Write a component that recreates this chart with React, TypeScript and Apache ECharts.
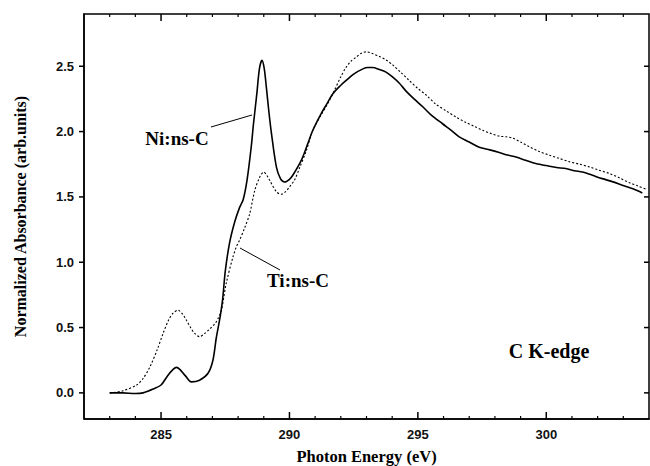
import React, { useEffect, useRef } from "react";
import * as echarts from "echarts";

const niEnergy = [283.0, 283.5, 284.0, 284.3, 284.7, 285.0, 285.25, 285.47, 285.6, 285.73, 285.95, 286.18, 286.5, 286.83, 287.02, 287.15, 287.29, 287.4, 287.5, 287.67, 287.87, 288.06, 288.2, 288.35, 288.51, 288.6, 288.73, 288.83, 288.93, 289.02, 289.1, 289.2, 289.3, 289.49, 289.65, 289.81, 290.0, 290.13, 290.46, 290.7, 290.91, 291.24, 291.45, 291.69, 292.0, 292.2, 292.5, 292.86, 293.05, 293.24, 293.5, 293.76, 294.0, 294.28, 294.54, 294.85, 295.19, 295.5, 295.96, 296.3, 296.61, 297.0, 297.39, 297.8, 298.17, 298.5, 298.82, 299.2, 299.59, 300.11, 300.4, 300.76, 301.1, 301.41, 301.8, 302.18, 302.6, 302.96, 303.4, 303.74];
const niAbs = [0.0, 0.0, -0.005, 0.0, 0.03, 0.06, 0.13, 0.18, 0.195, 0.18, 0.13, 0.084, 0.097, 0.15, 0.25, 0.42, 0.57, 0.72, 0.93, 1.15, 1.31, 1.42, 1.48, 1.63, 1.88, 2.06, 2.29, 2.48, 2.545, 2.48, 2.34, 2.15, 1.985, 1.73, 1.64, 1.614, 1.635, 1.666, 1.78, 1.9, 2.01, 2.14, 2.21, 2.29, 2.355, 2.39, 2.44, 2.48, 2.49, 2.49, 2.475, 2.455, 2.42, 2.37, 2.31, 2.25, 2.19, 2.13, 2.06, 2.01, 1.96, 1.92, 1.88, 1.86, 1.84, 1.82, 1.805, 1.78, 1.755, 1.735, 1.725, 1.717, 1.7, 1.69, 1.665, 1.64, 1.615, 1.59, 1.56, 1.53];

const tiEnergy = [283.0, 283.5, 284.05, 284.3, 284.57, 284.85, 285.08, 285.3, 285.47, 285.66, 285.85, 285.99, 286.15, 286.31, 286.5, 286.7, 286.9, 287.1, 287.22, 287.35, 287.54, 287.8, 287.93, 288.06, 288.25, 288.45, 288.65, 288.84, 289.0, 289.12, 289.23, 289.49, 289.68, 289.85, 290.0, 290.2, 290.39, 290.65, 290.91, 291.24, 291.45, 291.69, 292.0, 292.2, 292.4, 292.6, 292.8, 292.98, 293.2, 293.5, 293.75, 294.02, 294.35, 294.67, 295.0, 295.32, 295.7, 296.09, 296.5, 296.87, 297.2, 297.52, 297.85, 298.17, 298.45, 298.69, 299.0, 299.33, 299.7, 300.11, 300.5, 300.89, 301.3, 301.67, 302.05, 302.44, 302.8, 303.22, 303.55, 303.87];
const tiAbs = [0.0, 0.015, 0.06, 0.11, 0.2, 0.33, 0.455, 0.56, 0.61, 0.633, 0.6, 0.556, 0.5, 0.455, 0.43, 0.455, 0.49, 0.53, 0.57, 0.63, 0.84, 1.04, 1.117, 1.17, 1.26, 1.37, 1.55, 1.65, 1.69, 1.665, 1.627, 1.54, 1.52, 1.54, 1.576, 1.63, 1.72, 1.85, 2.01, 2.13, 2.2, 2.29, 2.42, 2.49, 2.54, 2.57, 2.6, 2.61, 2.6, 2.575, 2.55, 2.51, 2.45, 2.39, 2.33, 2.28, 2.21, 2.16, 2.11, 2.07, 2.04, 2.01, 1.985, 1.965, 1.96, 1.95, 1.92, 1.885, 1.85, 1.82, 1.795, 1.77, 1.75, 1.73, 1.705, 1.68, 1.65, 1.61, 1.585, 1.56];

const xMajorTicks = [285, 290, 295, 300];
const xAllTicks = [283, 284, 285, 286, 287, 288, 289, 290, 291, 292, 293, 294, 295, 296, 297, 298, 299, 300, 301, 302, 303];
const yMajorTicks = [0, 0.5, 1.0, 1.5, 2.0, 2.5];

const X_MIN = 282;
const X_MAX = 304;
const Y_MIN = -0.2;
const Y_MAX = 2.9;

const sansFont = "'Liberation Sans', Arial, Helvetica, sans-serif";
const serifFont = "'Liberation Serif', 'Times New Roman', Times, serif";

const textStyle = (text: string, size: number) => ({
  text,
  fontFamily: serifFont,
  fontSize: size,
  fontWeight: "bold",
  fill: "#000",
  align: "center",
  verticalAlign: "middle",
});

export default function App() {
  const ref = useRef<HTMLDivElement>(null);

  useEffect(() => {
    document.body.style.margin = "0";
    if (!ref.current) return;
    const chart = echarts.init(ref.current, undefined, { renderer: "svg" });

    const niData = niEnergy.map((x, i) => [x, niAbs[i]]);
    const tiData = tiEnergy.map((x, i) => [x, tiAbs[i]]);

    const option: any = {
      animation: false,
      grid: { left: 84, right: 1, top: 14, bottom: 47, containLabel: false, outerBoundsMode: "none" },
      xAxis: {
        type: "value",
        min: X_MIN,
        max: X_MAX,
        axisLine: { show: true, onZero: false, lineStyle: { color: "#000", width: 1.5 } },
        axisTick: { show: false },
        axisLabel: {
          show: true,
          customValues: xMajorTicks,
          margin: 9,
          color: "#111",
          fontFamily: sansFont,
          fontWeight: "bold",
          fontSize: 13,
        },
        splitLine: { show: false },
        name: "Photon Energy (eV)",
        nameLocation: "middle",
        nameGap: 29,
        nameTextStyle: { fontFamily: serifFont, fontWeight: "bold", fontSize: 16.5, color: "#000" },
      },
      yAxis: {
        type: "value",
        min: Y_MIN,
        max: Y_MAX,
        axisLine: { show: true, onZero: false, lineStyle: { color: "#000", width: 1.5 } },
        axisTick: { show: false },
        axisLabel: {
          show: true,
          customValues: yMajorTicks,
          margin: 10,
          color: "#111",
          fontFamily: sansFont,
          fontWeight: "bold",
          fontSize: 13,
          formatter: (v: number) => v.toFixed(1),
        },
        splitLine: { show: false },
        name: "Normalized Absorbance (arb.units)",
        nameLocation: "middle",
        nameGap: 56,
        nameRotate: 90,
        nameTextStyle: { fontFamily: serifFont, fontWeight: "bold", fontSize: 16, color: "#000" },
      },
      series: [
        {
          name: "Ni:ns-C",
          type: "line",
          data: niData,
          showSymbol: false,
          symbol: "none",
          smooth: 0.3,
          lineStyle: { color: "#000", width: 1.6 },
          z: 3,
        },
        {
          name: "Ti:ns-C",
          type: "line",
          data: tiData,
          showSymbol: false,
          symbol: "none",
          smooth: 0.3,
          lineStyle: { color: "#000", width: 1.1, type: [2, 2] },
          z: 3,
        },
      ],
    };

    chart.setOption(option);

    // frame and ticks, positioned through the chart's own axis scales
    const px = (x: number, y: number) => chart.convertToPixel({ gridIndex: 0 }, [x, y]) as number[];
    const frame: any[] = [];
    const stroke = { stroke: "#000", lineWidth: 1.5, fill: null };
    const bl = px(X_MIN, Y_MIN);
    const tr = px(X_MAX, Y_MAX);
    frame.push({
      type: "polyline",
      silent: true,
      z: 50,
      shape: { points: [[bl[0], bl[1]], [tr[0], bl[1]], [tr[0], tr[1]], [bl[0], tr[1]], [bl[0], bl[1]]] },
      style: { ...stroke },
    });
    xAllTicks.forEach((v) => {
      const len = xMajorTicks.includes(v) ? 7 : 3;
      const b = px(v, Y_MIN);
      const t = px(v, Y_MAX);
      frame.push({ type: "polyline", silent: true, z: 50, shape: { points: [[b[0], b[1]], [b[0], b[1] - len]] }, style: { ...stroke, lineWidth: len > 5 ? 1.5 : 1.2 } });
      frame.push({ type: "polyline", silent: true, z: 50, shape: { points: [[t[0], t[1]], [t[0], t[1] + len]] }, style: { ...stroke, lineWidth: len > 5 ? 1.5 : 1.2 } });
    });
    yMajorTicks.forEach((v) => {
      const l = px(X_MIN, v);
      const r = px(X_MAX, v);
      frame.push({ type: "polyline", silent: true, z: 50, shape: { points: [[l[0] - 5, l[1]], [l[0], l[1]]] }, style: { ...stroke } });
      frame.push({ type: "polyline", silent: true, z: 50, shape: { points: [[r[0] - 5, r[1]], [r[0], r[1]]] }, style: { ...stroke } });
    });

    const annotations: any[] = [
      { type: "text", x: 177, y: 138, style: textStyle("Ni:ns-C", 19) },
      { type: "line", shape: { x1: 211, y1: 127, x2: 252, y2: 115 }, style: { stroke: "#000", lineWidth: 1 } },
      { type: "text", x: 298, y: 280, style: textStyle("Ti:ns-C", 19) },
      { type: "line", shape: { x1: 240, y1: 248, x2: 280, y2: 270 }, style: { stroke: "#000", lineWidth: 1 } },
      { type: "text", x: 549, y: 351, style: textStyle("C K-edge", 20) },
    ];

    chart.setOption({ graphic: [...annotations, ...frame] });
    return () => chart.dispose();
  }, []);

  return <div ref={ref} style={{ width: 650, height: 466 }} />;
}
